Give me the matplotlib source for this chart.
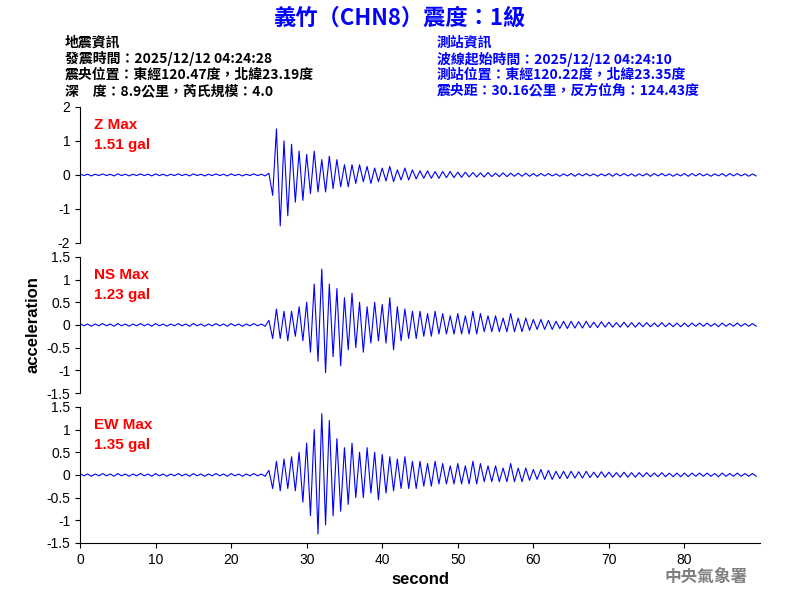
import matplotlib
matplotlib.use('agg')
import matplotlib.pyplot as plt
import numpy as np

plt.rcParams['font.family'] = ['Noto Sans CJK TC', 'DejaVu Sans']

dt = 0.5
quiet = [0.03, -0.02, 0.02, -0.03, 0.02, -0.02, 0.03, -0.02, 0.02, -0.03] * 5

z_vals = quiet + [
    0.05, -0.6, 1.35, -1.5, 1.0, -1.2, 0.9, -0.8, 0.7, -0.75,
    0.6, -0.55, 0.7, -0.5, 0.45, -0.5, 0.55, -0.4, 0.45, -0.35,
    0.3, -0.35, 0.3, -0.25, 0.3, -0.2, 0.25, -0.25, 0.2, -0.2,
    0.2, -0.18, 0.25, -0.2, 0.15, -0.15, 0.2, -0.15, 0.15, -0.12,
    0.12, -0.1, 0.12, -0.1, 0.1, -0.1, 0.1, -0.08, 0.1, -0.08,
    0.08, -0.07, 0.08, -0.06, 0.07, -0.06, 0.06, -0.06, 0.07, -0.05,
    0.05, -0.05, 0.06, -0.05, 0.05, -0.04, 0.05, -0.04, 0.05, -0.04,
] + [0.04, -0.04, 0.04, -0.03, 0.04, -0.03, 0.03, -0.04, 0.03, -0.03] * 6

tail = [
    0.25, -0.2, 0.2, -0.2, 0.3, -0.2, 0.25, -0.15, 0.2, -0.15,
    0.2, -0.15, 0.15, -0.15, 0.25, -0.15, 0.15, -0.15, 0.15, -0.12,
    0.12, -0.1, 0.12, -0.1, 0.1, -0.1, 0.08, -0.08, 0.08, -0.08,
    0.08, -0.07, 0.07, -0.07, 0.08, -0.06, 0.06, -0.06, 0.07, -0.05,
    0.06, -0.05, 0.05, -0.05, 0.06, -0.05, 0.05, -0.05, 0.05, -0.04,
    0.05, -0.04, 0.04, -0.04, 0.05, -0.04, 0.04, -0.04, 0.04, -0.04,
    0.04, -0.04, 0.04, -0.03, 0.04, -0.03, 0.04, -0.03, 0.03, -0.04,
    0.04, -0.03, 0.03, -0.03, 0.04, -0.03, 0.03, -0.03, 0.03, -0.03,
]

ns_vals = quiet + [
    0.1, -0.3, 0.35, -0.3, 0.3, -0.35, 0.3, -0.25, 0.4, -0.35,
    0.5, -0.6, 0.9, -0.8, 1.23, -1.05, 0.9, -0.7, 0.8, -0.9,
    0.6, -0.55, 0.7, -0.5, 0.5, -0.6, 0.4, -0.4, 0.5, -0.35,
    0.45, -0.4, 0.6, -0.55, 0.4, -0.35, 0.35, -0.3, 0.3, -0.3,
    0.3, -0.25, 0.25, -0.25, 0.3, -0.2, 0.25, -0.2, 0.2, -0.2,
] + tail

ew_vals = quiet + [
    0.1, -0.3, 0.3, -0.35, 0.35, -0.3, 0.4, -0.35, 0.5, -0.6,
    0.7, -0.9, 1.0, -1.3, 1.35, -1.1, 1.2, -0.9, 0.8, -0.8,
    0.6, -0.65, 0.7, -0.5, 0.5, -0.5, 0.6, -0.4, 0.5, -0.55,
    0.45, -0.4, 0.4, -0.35, 0.35, -0.3, 0.4, -0.3, 0.3, -0.3,
    0.3, -0.25, 0.25, -0.25, 0.3, -0.2, 0.25, -0.2, 0.2, -0.2,
] + tail

traces = [("Z Max", "1.51 gal", z_vals, (-2, 2), [-2, -1, 0, 1, 2]),
          ("NS Max", "1.23 gal", ns_vals, (-1.5, 1.5), [-1.5, -1, -0.5, 0, 0.5, 1, 1.5]),
          ("EW Max", "1.35 gal", ew_vals, (-1.5, 1.5), [-1.5, -1, -0.5, 0, 0.5, 1, 1.5])]

lat = 'Liberation Sans'
fig = plt.figure(figsize=(8, 6), dpi=100)
bottoms = [0.595, 0.345, 0.095]
for i, (name, val, y, lim, ticks) in enumerate(traces):
    ax = fig.add_axes([0.1, bottoms[i], 0.85, 0.227])
    t = np.arange(len(y)) * dt
    ax.plot(t, y, color='blue', lw=0.8)
    ax.set_xlim(0, 90)
    ax.set_ylim(*lim)
    ax.set_yticks(ticks)
    ax.set_yticklabels([f"{v:g}" for v in ticks], fontsize=10, family=lat)
    for s in ['top', 'right']:
        ax.spines[s].set_visible(False)
    if i < 2:
        ax.spines['bottom'].set_visible(False)
        ax.set_xticks([])
    else:
        ax.set_xticks(range(0, 90, 10))
        ax.set_xticklabels([str(v) for v in range(0, 90, 10)], fontsize=10, family=lat)
        ax.set_xlabel('second', fontsize=12, fontweight='bold', family=lat)
    if i == 1:
        ax.set_ylabel('acceleration', fontsize=12, fontweight='bold', family=lat)
    ax.text(0.02, 0.92, name + "\n" + val, transform=ax.transAxes, color='red',
            fontsize=11, fontweight='bold', va='top', family=lat, linespacing=1.6)

fig.text(0.5, 0.97, "義竹（CHN8）震度：1級", color='blue', fontsize=16,
         fontweight='bold', ha='center', va='center')
left = ["地震資訊", "發震時間：2025/12/12 04:24:28", "震央位置：東經120.47度，北緯23.19度",
        "深　度：8.9公里，芮氏規模：4.0"]
right = ["測站資訊", "波線起始時間：2025/12/12 04:24:10", "測站位置：東經120.22度，北緯23.35度",
         "震央距：30.16公里，反方位角：124.43度"]
for k, (a, b) in enumerate(zip(left, right)):
    yy = 1 - (43 + 16 * k) / 600
    fig.text(65 / 800, yy, a, fontsize=10, fontweight='bold', va='center')
    fig.text(437 / 800, yy, b, fontsize=10, fontweight='bold', va='center', color='blue')
fig.text(0.935, 0.03, "中央氣象署", color='gray', fontsize=12, fontweight='bold', ha='right')

fig.savefig('out.png', dpi=100)
plt.close()
